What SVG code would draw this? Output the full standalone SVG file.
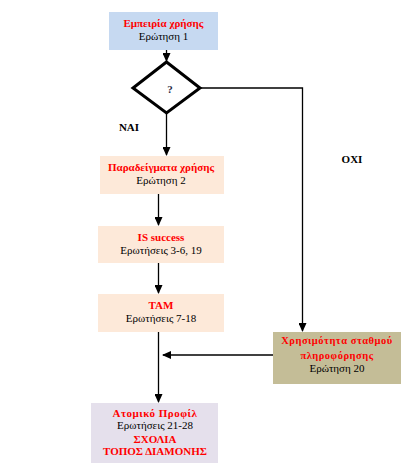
<svg xmlns="http://www.w3.org/2000/svg" width="416" height="466" viewBox="0 0 416 466">
<style>
text{font-family:"Liberation Serif","Times New Roman",serif;font-size:11px;text-anchor:middle;fill:#000}
.t{font-weight:bold;fill:#ff0000}
.ts{font-weight:bold;fill:#ff0000;letter-spacing:0.5px}
.lbl{font-weight:bold;fill:#000}
.c{stroke:#000;stroke-width:1.3;fill:none}
</style>
<defs>
<marker id="ah" markerWidth="9" markerHeight="8" refX="8" refY="4" orient="auto" markerUnits="userSpaceOnUse">
<path d="M0,0 L9,4 L0,8 Z" fill="#000"/>
</marker>
</defs>
<rect width="416" height="466" fill="#fff"/>
<g id="connectors">
<line class="c" x1="166.5" y1="50" x2="166.5" y2="61" marker-end="url(#ah)"/>
<line class="c" x1="166.5" y1="114" x2="166.5" y2="155" marker-end="url(#ah)"/>
<polyline class="c" points="200,88 302.5,88 302.5,331" marker-end="url(#ah)"/>
<line class="c" x1="158.5" y1="194" x2="158.5" y2="225" marker-end="url(#ah)"/>
<line class="c" x1="158.5" y1="263" x2="158.5" y2="293" marker-end="url(#ah)"/>
<line class="c" x1="158.5" y1="332" x2="158.5" y2="402" marker-end="url(#ah)"/>
<line class="c" x1="273" y1="355" x2="163" y2="355" marker-end="url(#ah)"/>
<text class="lbl" x="129" y="131">ΝΑΙ</text>
<text class="lbl" x="352" y="163">ΟΧΙ</text>
</g>
<g id="n1">
<rect x="109" y="12" width="109" height="38" fill="#c6d9f1"/>
<text class="t" x="163.5" y="27">Εμπειρία χρήσης</text>
<text x="163.5" y="40">Ερώτηση 1</text>
</g>
<g id="decision">
<polygon points="166.5,62 200,88 166.5,113 133,88" fill="#fff" stroke="#000" stroke-width="3" stroke-linejoin="miter"/>
<text class="lbl" x="170" y="93" style="font-weight:bold;fill:#1f2a44">?</text>
</g>
<g id="n2">
<rect x="100" y="156" width="124" height="38" fill="#fde9d9"/>
<text class="t" x="161" y="171">Παραδείγματα χρήσης</text>
<text x="161" y="184">Ερώτηση 2</text>
</g>
<g id="n3">
<rect x="98" y="226" width="126" height="37" fill="#fde9d9"/>
<text class="t" x="161" y="241">IS success</text>
<text x="161" y="254">Ερωτήσεις 3-6, 19</text>
</g>
<g id="n4">
<rect x="98" y="294" width="126" height="38" fill="#fde9d9"/>
<text class="t" x="161" y="309">TAM</text>
<text x="161" y="322">Ερωτήσεις 7-18</text>
</g>
<g id="n5">
<rect x="273" y="332" width="128" height="52" fill="#c4bd97"/>
<text class="ts" x="337" y="344" style="font-size:10.5px">Χρησιμότητα σταθμού</text>
<text class="ts" x="337" y="359" style="font-size:10.5px">πληροφόρησης</text>
<text x="337" y="372">Ερώτηση 20</text>
</g>
<g id="n6">
<rect x="91" y="403" width="127" height="60" fill="#e5e0ec"/>
<text class="ts" x="155" y="417">Ατομικό Προφίλ</text>
<text x="155" y="429">Ερωτήσεις 21-28</text>
<text class="t" x="155" y="443">ΣΧΟΛΙΑ</text>
<text class="t" x="155" y="455">ΤΟΠΟΣ ΔΙΑΜΟΝΗΣ</text>
</g>
</svg>
